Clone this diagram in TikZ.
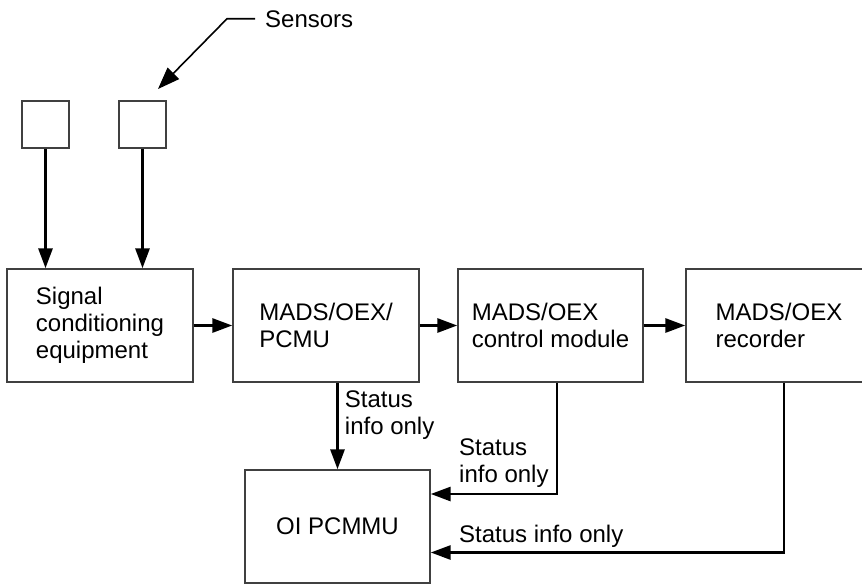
\documentclass[tikz,border=0pt]{standalone}
\usepackage{fontspec}
\setmainfont{Liberation Sans}
\usetikzlibrary{arrows.meta,positioning,calc}
\tikzstyle{process} = [rectangle, minimum width=186pt, minimum height=113pt, align=left, draw=black!75, line width=1.4pt, inner sep=0pt]
\tikzstyle{sensorbox} = [rectangle, minimum width=47pt, minimum height=47pt, draw=black!75, line width=1.4pt, inner sep=0pt]
\tikzstyle{arrow} = [line width=2.9pt, -{Triangle[length=20pt,width=14pt]}]
\tikzstyle{note} = [inner sep=0pt, align=left]
\begin{document}
\begin{tikzpicture}[x=1pt, y=-1pt, font=\fontsize{24}{27}\selectfont]
			\useasboundingbox (0,0) rectangle (862,584);
			\node[sensorbox] (sens1) at (45.5,124.5) {};
			\node[sensorbox] (sens2) at (142.5,124.5) {};
			\node[process] (sig) at (100,325.5) {Signal\\conditioning\\equipment};
			\node[process] (pcmu) at (326,325.5) {MADS/OEX/\\PCMU};
			\node[process, minimum width=185pt] (ctrl) at (550.5,325.5) {MADS/OEX\\control module};
			\node[process] (rec) at (779,325.5) {MADS/OEX\\recorder};
			\node[process, minimum width=185pt] (oi) at (337.5,526.5) {OI PCMMU};
			\node[note, anchor=base west] (sensors) at (265,27) {Sensors};
			\coordinate (senstip) at (158,89);
			
			%arrow
			\draw [line width=1.6pt, -{Triangle[length=22pt,width=16pt]}] ([xshift=-10pt]sensors.west) -- ++(-28,0) -- (senstip);
			\draw [arrow] (sens1) -- (sens1 |- sig.north);
			\draw [arrow] (sens2) -- (sens2 |- sig.north);
			\draw [arrow] (sig) -- (pcmu);
			\draw [arrow] (pcmu) -- (ctrl);
			\draw [arrow] (ctrl) -- (rec);
			\draw [arrow] (oi.north |- pcmu.south) -- node[note, pos=0.08, anchor=north west, xshift=6pt] (st1) {Status\\info only} (oi.north);
			\draw [arrow] ([xshift=6.5pt]ctrl.south) |- ($(oi.east)+(0,-32.5)$);
			\draw [arrow] ([xshift=5pt]rec.south) |- ($(oi.east)+(0,26)$);
			\node[note, anchor=north west] (st2) at (459,439) {Status\\info only};
			\node[note, anchor=base west] (st3) at (459,542) {Status info only};
			
			%	
		\end{tikzpicture}
\end{document}
